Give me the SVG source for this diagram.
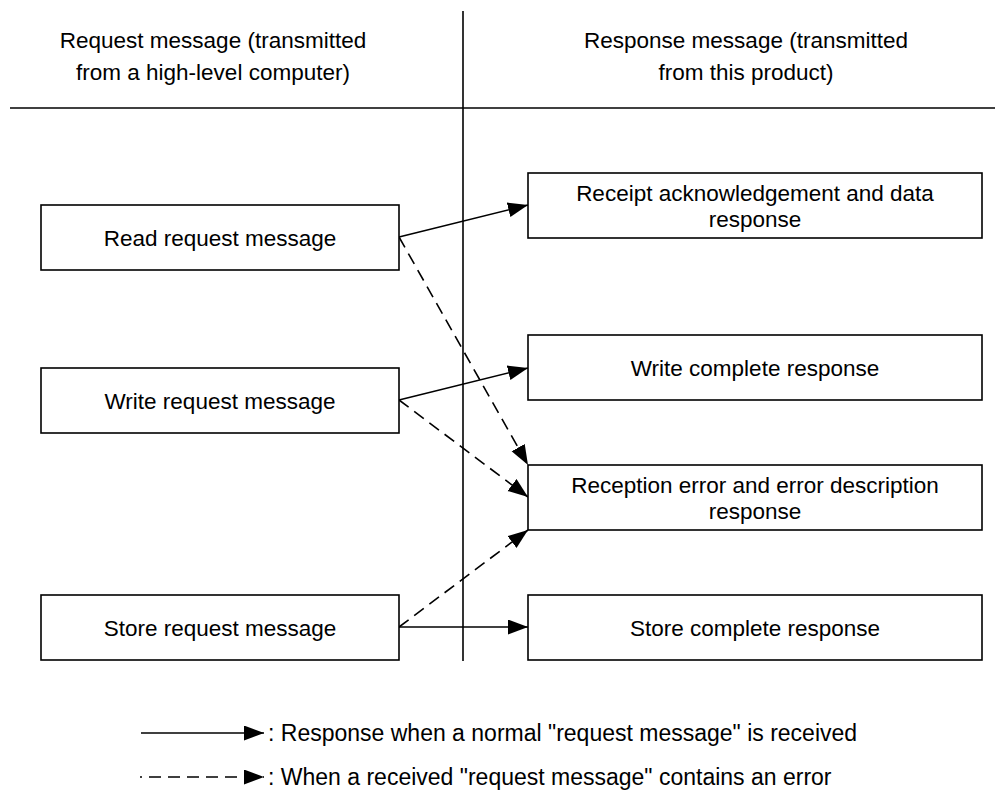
<svg xmlns="http://www.w3.org/2000/svg" width="1003" height="798" viewBox="0 0 1003 798">
<style>
text{font-family:"Liberation Sans",Arial,sans-serif;font-size:22.5px;fill:#000;text-anchor:middle}
.box{fill:#fff;stroke:#000;stroke-width:1.6}
.ln{stroke:#000;stroke-width:1.6;fill:none}
.sol{stroke:#000;stroke-width:1.6;fill:none;marker-end:url(#ah)}
.dsh{stroke:#000;stroke-width:1.6;fill:none;stroke-dasharray:12 7;marker-end:url(#ah)}
.lg{text-anchor:start;font-size:23px}
</style>
<defs>
<marker id="ah" markerUnits="userSpaceOnUse" markerWidth="21" markerHeight="16" refX="20" refY="7.5" orient="auto">
<path d="M0,0 L20,7.5 L0,15 z" fill="#000"/>
</marker>
</defs>
<g id="frame">
<line class="ln" x1="463" y1="11" x2="463" y2="661"/>
<line class="ln" x1="10" y1="108" x2="995" y2="108"/>
<text x="213" y="48">Request message (transmitted</text>
<text x="213" y="80">from a high-level computer)</text>
<text x="746" y="48">Response message (transmitted</text>
<text x="746" y="80">from this product)</text>
</g>
<g id="connectors">
<line class="sol" x1="399" y1="237" x2="528" y2="205"/>
<line class="dsh" x1="399" y1="237" x2="528" y2="465"/>
<line class="sol" x1="399" y1="400" x2="528" y2="368"/>
<line class="dsh" x1="399" y1="400" x2="528" y2="497"/>
<line class="dsh" x1="399" y1="627" x2="528" y2="530"/>
<line class="sol" x1="399" y1="627" x2="528" y2="627"/>
</g>
<g id="read"><rect class="box" x="41" y="205" width="358" height="65"/><text x="220" y="245.5">Read request message</text></g>
<g id="write"><rect class="box" x="41" y="368" width="358" height="65"/><text x="220" y="408.5">Write request message</text></g>
<g id="store"><rect class="box" x="41" y="595" width="358" height="65"/><text x="220" y="635.5">Store request message</text></g>
<g id="receipt"><rect class="box" x="528" y="173" width="454" height="65"/><text x="755" y="200.5">Receipt acknowledgement and data</text><text x="755" y="226.5">response</text></g>
<g id="writecomplete"><rect class="box" x="528" y="335" width="454" height="65"/><text x="755" y="375.5">Write complete response</text></g>
<g id="reception"><rect class="box" x="528" y="465" width="454" height="65"/><text x="755" y="492.5">Reception error and error description</text><text x="755" y="518.5">response</text></g>
<g id="storecomplete"><rect class="box" x="528" y="595" width="454" height="65"/><text x="755" y="635.5">Store complete response</text></g>
<g id="legend">
<line class="sol" x1="141" y1="733" x2="264" y2="733"/>
<text class="lg" x="268" y="741">: Response when a normal "request message" is received</text>
<line class="ln" x1="140" y1="777" x2="142" y2="777"/>
<line class="dsh" x1="149" y1="777" x2="264" y2="777"/>
<text class="lg" x="268" y="785">: When a received "request message" contains an error</text>
</g>
</svg>
